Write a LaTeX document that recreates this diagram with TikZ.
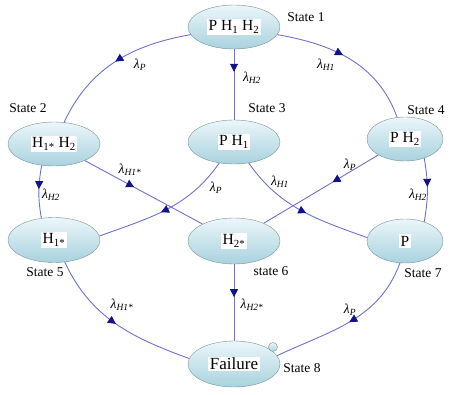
\documentclass[tikz,border=0pt]{standalone}
\usepackage{fontspec}
\setmainfont{Liberation Serif}
\usepackage{tikz}
\usetikzlibrary{arrows.meta,shapes.geometric,decorations.markings}
\definecolor{stfill}{RGB}{236,246,250}
\definecolor{stshade}{RGB}{168,210,222}
\definecolor{stline}{RGB}{120,148,150}
\definecolor{edgeblue}{RGB}{112,112,206}
\definecolor{tipblue}{RGB}{18,18,140}
\newcommand{\stxt}[1]{{\setlength{\fboxsep}{1.5pt}\colorbox{white}{#1}}}
\newcommand{\rate}[1]{\textit{λ}\textsubscript{\textit{#1}}}

\begin{document}
\begin{tikzpicture}[
  x=1pt, y=1pt,
  state/.style={draw=stline, ellipse, minimum width=92pt, minimum height=44pt, inner sep=0pt, top color=stfill, bottom color=stshade, font=\fontsize{15.5}{17}\selectfont},
  tag/.style={font=\fontsize{13.5}{15}\selectfont},
  rlab/.style={font=\fontsize{13.5}{15}\selectfont, inner sep=0pt},
  trans/.style={draw=edgeblue, line width=0.9pt, postaction={decorate}, decoration={markings, mark=at position #1 with {\arrow[tipblue]{Triangle[length=8pt,width=8pt]}}}},
  trans/.default=0.5
]
\useasboundingbox (0,0) rectangle (457,394);

\node[state] (s1) at (234,367) {\stxt{P H\textsubscript{1} H\textsubscript{2}}};
\node[state] (s2) at (54,250) {\stxt{H\textsubscript{1*} H\textsubscript{2}}};
\node[state] (s3) at (234,252) {\stxt{P H\textsubscript{1}}};
\node[state, minimum width=76pt] (s4) at (405,255) {\stxt{P H\textsubscript{2}}};
\node[state, minimum height=45pt] (s5) at (54,154) {\stxt{H\textsubscript{1*}}};
\node[state, minimum height=46pt] (s6) at (234,153) {\stxt{H\textsubscript{2*}}};
\node[state, minimum width=76pt] (s7) at (405,153) {\stxt{P}};
\node[state, minimum height=46pt, font=\fontsize{17}{19}\selectfont] (s8) at (234,30) {\stxt{Failure}};
\node[circle, draw=stline, top color=stfill, bottom color=stshade, minimum size=9pt, inner sep=0pt] (dot) at (273,47) {};

\node[tag] (t1) at (306,377) {State 1};
\node[tag] (t2) at (28,286) {State 2};
\node[tag] (t3) at (267,286) {State 3};
\node[tag] (t4) at (426,284) {State 4};
\node[tag] (t5) at (45,122) {State 5};
\node[tag] (t6) at (271,123) {state 6};
\node[tag] (t7) at (423,121) {State 7};
\node[tag] (t8) at (302,26) {State 8};

\draw[trans] (s1) to[out=190,in=65] (s2);
\draw[trans=0.32] (s1) -- (s3);
\draw[trans=0.45] (s1) to[out=-10,in=110] (s4);
\draw[trans=0.45] (s2.240) to[out=-100,in=100] (s5.120);
\draw[trans=0.42] (s2) -- (s6);
\draw[trans=0.54] (s3.235) to[out=-125,in=20] (s5.5);
\draw[trans=0.54] (s3.305) to[out=-55,in=160] (s7.175);
\draw[trans=0.4] (s4) -- (s6);
\draw[trans=0.45] (s4.-45) to[out=-80,in=80] (s7.45);
\draw[trans] (s5.-64) to[out=-65,in=160] (s8.173);
\draw[trans=0.43] (s6) -- (s8);
\draw[trans] (s7.-103) to[out=-110,in=25] (s8.11);

\node[rlab] (r12) at (140,329) {\rate{P}};
\node[rlab] (r13) at (252,316) {\rate{H2}};
\node[rlab] (r14) at (326,329) {\rate{H1}};
\node[rlab] (r25) at (51,199) {\rate{H2}};
\node[rlab] (r26) at (130,224) {\rate{H1*}};
\node[rlab] (r35) at (216,206) {\rate{P}};
\node[rlab] (r37) at (280,212) {\rate{H1}};
\node[rlab] (r46) at (350,229) {\rate{P}};
\node[rlab] (r47) at (418,199) {\rate{H2}};
\node[rlab] (r58) at (122,89) {\rate{H1*}};
\node[rlab] (r68) at (252,89) {\rate{H2*}};
\node[rlab] (r78) at (350,84) {\rate{P}};
\end{tikzpicture}
\end{document}
